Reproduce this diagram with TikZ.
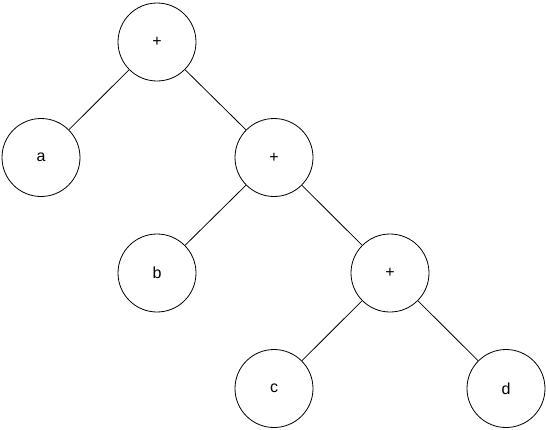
\documentclass[tikz,border=0pt]{standalone}
\usepackage{fontspec}
\setmainfont{Liberation Sans}
\begin{document}
\begin{tikzpicture}[x=1pt,y=-1pt,
  tn/.style={circle,draw=black,line width=0.8pt,minimum size=78pt,inner sep=0pt,font=\fontsize{16}{18}\selectfont},
  edge/.style={draw=black,line width=0.8pt}]
\useasboundingbox (0,0) rectangle (546,429);
\node[tn] (r) at (157,42) {+};
\node[tn] (a) at (41,157.5) {a};
\node[tn] (p2) at (274,157.5) {+};
\node[tn] (b) at (157,273) {b};
\node[tn] (p3) at (390,273) {+};
\node[tn] (c) at (274,388.5) {c};
\node[tn] (d) at (506,388.5) {d};
\draw[edge] (r) -- (a);
\draw[edge] (r) -- (p2);
\draw[edge] (p2) -- (b);
\draw[edge] (p2) -- (p3);
\draw[edge] (p3) -- (c);
\draw[edge] (p3) -- (d);
\end{tikzpicture}
\end{document}
